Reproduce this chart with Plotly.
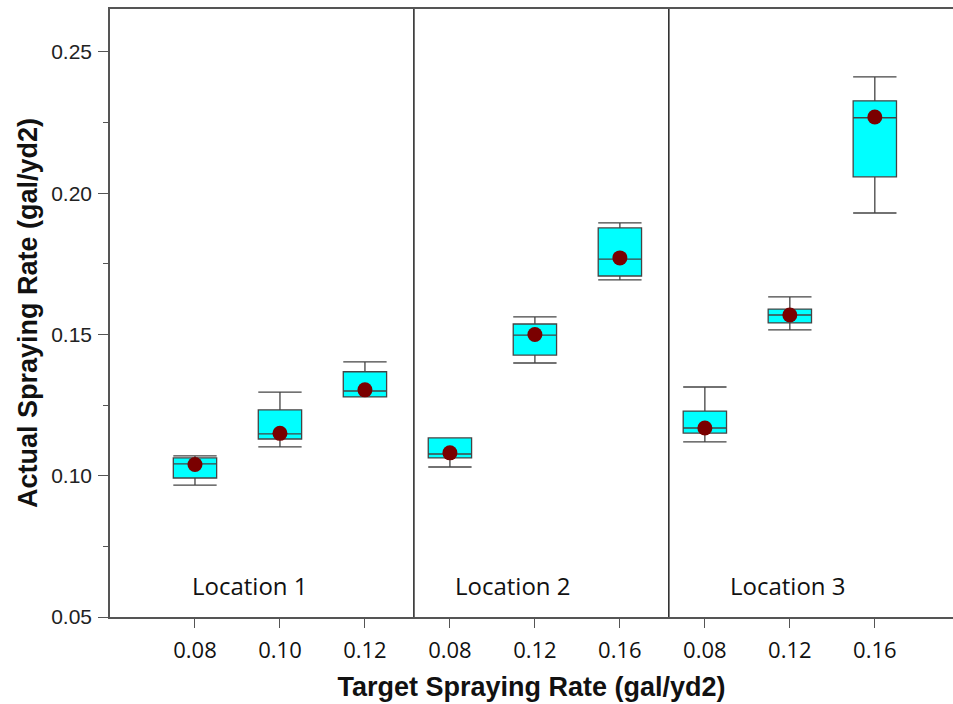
import plotly.graph_objects as go

# Target rates per location (categorical positions 0..8 on the x axis)
tick_labels = ["0.08", "0.10", "0.12", "0.08", "0.12", "0.16", "0.08", "0.12", "0.16"]
locations = ["Location 1", "Location 2", "Location 3"]

# Box statistics of the measured spraying rate (gal/yd2)
upper_whisker = [0.1070, 0.1296, 0.1403, 0.1134, 0.1562, 0.1895, 0.1314, 0.1633, 0.2412]
q3_values = [0.1063, 0.1233, 0.1368, 0.1134, 0.1537, 0.1877, 0.1229, 0.1590, 0.2327]
median_values = [0.1042, 0.1148, 0.1300, 0.1077, 0.1498, 0.1767, 0.1169, 0.1569, 0.2267]
q1_values = [0.0992, 0.1130, 0.1279, 0.1063, 0.1427, 0.1707, 0.1151, 0.1541, 0.2058]
lower_whisker = [0.0967, 0.1102, 0.1279, 0.1031, 0.1399, 0.1693, 0.1120, 0.1516, 0.1930]
mean_values = [0.1040, 0.1150, 0.1304, 0.1081, 0.1500, 0.1771, 0.1169, 0.1569, 0.2270]

positions = list(range(len(tick_labels)))
separators = [2.576, 5.576]
label_centers = [0.65, 3.74, 6.98]

axis_color = "#555555"
fig = go.Figure()

fig.add_trace(go.Box(
    x=positions,
    q1=q1_values,
    median=median_values,
    q3=q3_values,
    lowerfence=lower_whisker,
    upperfence=upper_whisker,
    width=0.51,
    whiskerwidth=1,
    fillcolor="#00FFFF",
    line=dict(color="#444444", width=1.3),
    boxpoints=False,
    showlegend=False,
    hoverinfo="skip",
))

fig.add_trace(go.Scatter(
    x=positions,
    y=mean_values,
    mode="markers",
    marker=dict(color="#7A0000", size=15, line=dict(width=0)),
    showlegend=False,
))

for xs in separators:
    fig.add_shape(type="line", x0=xs, x1=xs, y0=0.05, y1=0.2652,
                  xref="x", yref="y", line=dict(color="#222222", width=1.5))

for name, xc in zip(locations, label_centers):
    fig.add_annotation(x=xc, y=0.061, xref="x", yref="y", text=name,
                       showarrow=False,
                       font=dict(family="Open Sans", size=24, color="#111111"))

fig.update_layout(
    width=953, height=704,
    margin=dict(l=110, r=0, t=9, b=87),
    plot_bgcolor="white",
    paper_bgcolor="white",
    xaxis=dict(
        range=[-1.0, 8.92],
        tickmode="array",
        tickvals=positions,
        ticktext=tick_labels,
        ticks="outside", ticklen=9, tickwidth=1.2, tickcolor=axis_color,
        ticklabelstandoff=4,
        showline=True, linecolor=axis_color, linewidth=1.5, mirror=True,
        showgrid=False, zeroline=False,
        tickfont=dict(family="Open Sans", size=22, color="#111111"),
        title=dict(text="<b>Target Spraying Rate (gal/yd2)</b>", standoff=14,
                   font=dict(family="Liberation Sans, Arial", size=27, color="#111111")),
    ),
    yaxis=dict(
        range=[0.05, 0.2652],
        tickmode="array",
        tickvals=[0.05, 0.10, 0.15, 0.20, 0.25],
        ticktext=["0.05", "0.10", "0.15", "0.20", "0.25"],
        ticks="outside", ticklen=10, tickwidth=1.2, tickcolor=axis_color,
        ticklabelstandoff=2,
        minor=dict(dtick=0.025, tick0=0.05, ticks="outside", ticklen=5,
                   tickcolor=axis_color, tickwidth=1.2, showgrid=False),
        showline=True, linecolor=axis_color, linewidth=1.5,
        showgrid=False, zeroline=False,
        tickfont=dict(family="Liberation Sans, Arial", size=21, color="#222222"),
        title=dict(text="<b>Actual Spraying Rate (gal/yd2)</b>", standoff=6,
                   font=dict(family="Liberation Sans, Arial", size=27, color="#111111")),
    ),
)

fig.write_html("out.html")
